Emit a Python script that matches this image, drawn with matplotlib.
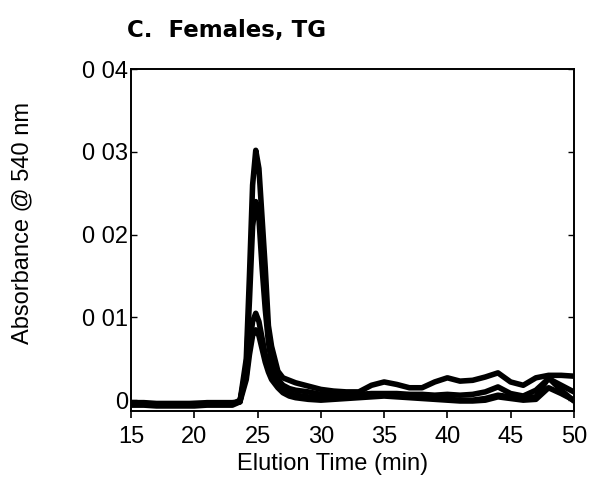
import numpy as np
import matplotlib
matplotlib.use("Agg")
import matplotlib.pyplot as plt

plt.rcParams["font.family"] = ["Liberation Sans", "DejaVu Sans"]

time = [15, 16, 17, 18, 19, 20, 21, 22, 23, 23.6,
        24.1, 24.35, 24.6, 24.85, 25.1, 25.35, 25.6, 25.85, 26.1, 26.6,
        27, 27.5, 28, 29, 30, 31, 32, 33, 34, 35,
        36, 37, 38, 39, 40, 41, 42, 43, 44, 45,
        46, 47, 48, 49, 50]

run1 = [-0.0003, -0.0003, -0.0004, -0.0004, -0.0004, -0.0004, -0.0003, -0.0003, -0.0003, -0.0002,
        0.005, 0.015, 0.026, 0.0302, 0.028, 0.022, 0.016, 0.009, 0.0065, 0.0035,
        0.0027, 0.0024, 0.0021, 0.0017, 0.0013, 0.0011, 0.001, 0.001, 0.0018, 0.0022,
        0.0019, 0.0015, 0.0015, 0.0022, 0.0027, 0.0023, 0.0024, 0.0028, 0.0033, 0.0022,
        0.0018, 0.0027, 0.003, 0.003, 0.0029]

run2 = [-0.0004, -0.0004, -0.0005, -0.0005, -0.0005, -0.0004, -0.0004, -0.0004, -0.0004, -0.0002,
        0.004, 0.012, 0.021, 0.024, 0.022, 0.016, 0.011, 0.007, 0.0045, 0.0025,
        0.0018, 0.0014, 0.0012, 0.001, 0.0007, 0.0007, 0.0007, 0.0007, 0.0008, 0.0008,
        0.0008, 0.0007, 0.0007, 0.0006, 0.0007, 0.0006, 0.0007, 0.001, 0.0016, 0.0008,
        0.0005, 0.0012, 0.0026, 0.0018, 0.001]

run3 = [-0.0005, -0.0005, -0.0006, -0.0006, -0.0006, -0.0006, -0.0005, -0.0005, -0.0005, 0.0,
        0.003, 0.0065, 0.0095, 0.0105, 0.0095, 0.0075, 0.0055, 0.004, 0.003, 0.002,
        0.0012, 0.0008, 0.0006, 0.0004, 0.0003, 0.0003, 0.0004, 0.0005, 0.0006, 0.0006,
        0.0005, 0.0005, 0.0005, 0.0003, 0.0001, 0.0, 0.0, 0.0002, 0.0006, 0.0004,
        0.0003, 0.0004, 0.0027, 0.0012, -0.0001]

run4 = [-0.0006, -0.0006, -0.0007, -0.0007, -0.0007, -0.0007, -0.0006, -0.0006, -0.0006, -0.0002,
        0.0025, 0.0055, 0.0078, 0.0085, 0.0078, 0.0062, 0.0046, 0.0034, 0.0025, 0.0015,
        0.0009, 0.0005, 0.0003, 0.0001, 0.0, 0.0001, 0.0002, 0.0003, 0.0004, 0.0005,
        0.0004, 0.0003, 0.0002, 0.0001, 0.0, -0.0001, -0.0001, 0.0, 0.0004, 0.0002,
        0.0, 0.0001, 0.0015, 0.0008, 0.0]

yticks = [0, 0.01, 0.02, 0.03, 0.04]
ytick_labels = ["0", "0 01", "0 02", "0 03", "0 04"]
xticks = [15, 20, 25, 30, 35, 40, 45, 50]

fig = plt.figure(figsize=(5.99, 4.84), dpi=100)
ax = fig.add_axes([0.219, 0.151, 0.739, 0.706])

for run in [run1, run2, run3, run4]:
    ax.plot(time, run, color="black", linewidth=4, solid_joinstyle="round",
            solid_capstyle="round")

ax.set_xlim(15, 50)
ax.set_ylim(-0.0013, 0.04)
ax.set_xticks(xticks)
ax.set_yticks(yticks)
ax.set_yticklabels(ytick_labels)

ax.tick_params(axis="x", direction="out", length=5, width=1.2, labelsize=17, pad=6)
ax.tick_params(axis="y", direction="in", length=4, width=1.0, labelsize=17, pad=2, right=True)
for s in ax.spines.values():
    s.set_linewidth(1.4)

ax.set_xlabel("Elution Time (min)", fontsize=17)
ax.xaxis.set_label_coords(0.456, -0.155)
ax.xaxis.label.set_verticalalignment("center")
ax.set_ylabel("Absorbance @ 540 nm", fontsize=17)
ax.yaxis.set_label_coords(-0.246, 0.55)
ax.yaxis.label.set_verticalalignment("center")

fig.text(0.212, 0.938, "C.  Females, TG", fontsize=16.5, fontweight="bold",
         family="DejaVu Sans", ha="left", va="center")

fig.savefig("out.png", dpi=100)
